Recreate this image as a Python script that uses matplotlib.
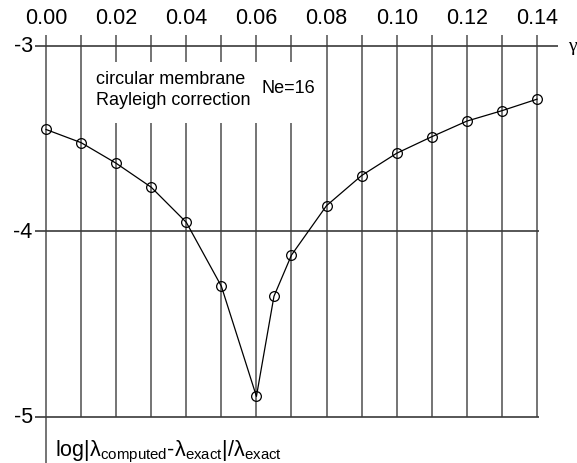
import matplotlib
matplotlib.use("Agg")
import matplotlib.pyplot as plt

plt.rcParams['font.family'] = ['Liberation Sans', 'DejaVu Sans']
plt.rcParams['mathtext.fontset'] = 'custom'
plt.rcParams['mathtext.rm'] = 'Liberation Sans'
plt.rcParams['mathtext.it'] = 'Liberation Sans:italic'

# data
gamma = [0.00, 0.01, 0.02, 0.03, 0.04, 0.05, 0.06, 0.065, 0.07,
         0.08, 0.09, 0.10, 0.11, 0.12, 0.13, 0.14]
log_err = [-3.452, -3.523, -3.634, -3.763, -3.952, -4.296, -4.889, -4.350, -4.128,
           -3.862, -3.700, -3.580, -3.491, -3.407, -3.351, -3.289]
x_grid = [0.00, 0.01, 0.02, 0.03, 0.04, 0.05, 0.06, 0.07,
          0.08, 0.09, 0.10, 0.11, 0.12, 0.13, 0.14]
x_labels = [0.00, 0.02, 0.04, 0.06, 0.08, 0.10, 0.12, 0.14]
y_levels = [-3, -4, -5]

fig = plt.figure(figsize=(5.77, 4.64), dpi=100)
ax = fig.add_axes([0, 0, 1, 1])
ax.axis('off')

# map data to pixel layout of the original
px_x = 491 / 0.14
px_y = 371.5 / 2.0
ax.set_xlim(-46 / px_x, 0.14 + 40 / px_x)
ax.set_ylim(-5 - 46 / px_y, -3 + 46.5 / px_y)

top = -3 + 10.5 / px_y
gap_hi = -3 - 16.2 / px_y
gap_lo = -3 - 77.5 / px_y
vcol = '#555555'
for x in x_grid:
    if x == 0.00:
        ax.vlines(x, -5.3, top, color=vcol, lw=1.15)
    elif 0.015 < x < 0.075:
        ax.vlines(x, gap_hi, top, color=vcol, lw=1.15)
        ax.vlines(x, -5, gap_lo, color=vcol, lw=1.15)
    else:
        ax.vlines(x, -5, top, color=vcol, lw=1.15)

hcol = '#3a3a3a'
left = -0.0031
for y in y_levels:
    right = 0.146 if y == -3 else 0.1405
    ax.hlines(y, left, right, color=hcol, lw=1.2)
    ax.text(left - 0.0007, y, str(y), ha='right', va='center', fontsize=15.5)

for x in x_labels:
    ax.text(x, -3 + 28 / px_y, f"{x:.2f}", ha='center', va='center', fontsize=15.5)

ax.text(0.1502, -3.0, 'γ', ha='center', va='center', fontsize=14,
        family=['Liberation Serif', 'DejaVu Serif'])

ax.plot(gamma, log_err, color='black', lw=0.9, marker='o', markersize=7,
        markerfacecolor='none', markeredgecolor='black', markeredgewidth=0.9)

ax.text(50 / px_x, -3 - 33.5 / px_y, 'circular membrane',
        ha='left', va='center', fontsize=13)
ax.text(50 / px_x, -3 - 54 / px_y, 'Rayleigh correction',
        ha='left', va='center', fontsize=13)
ax.text(216 / px_x, -3 - 42 / px_y, 'Ne=16',
        ha='left', va='center', fontsize=13)

ax.text(9 / px_x, -5 - 34 / px_y,
        r'log|λ$_{\mathrm{computed}}$-λ$_{\mathrm{exact}}$|/λ$_{\mathrm{exact}}$',
        ha='left', va='center', fontsize=15.5)

fig.savefig('out.png', dpi=100)
